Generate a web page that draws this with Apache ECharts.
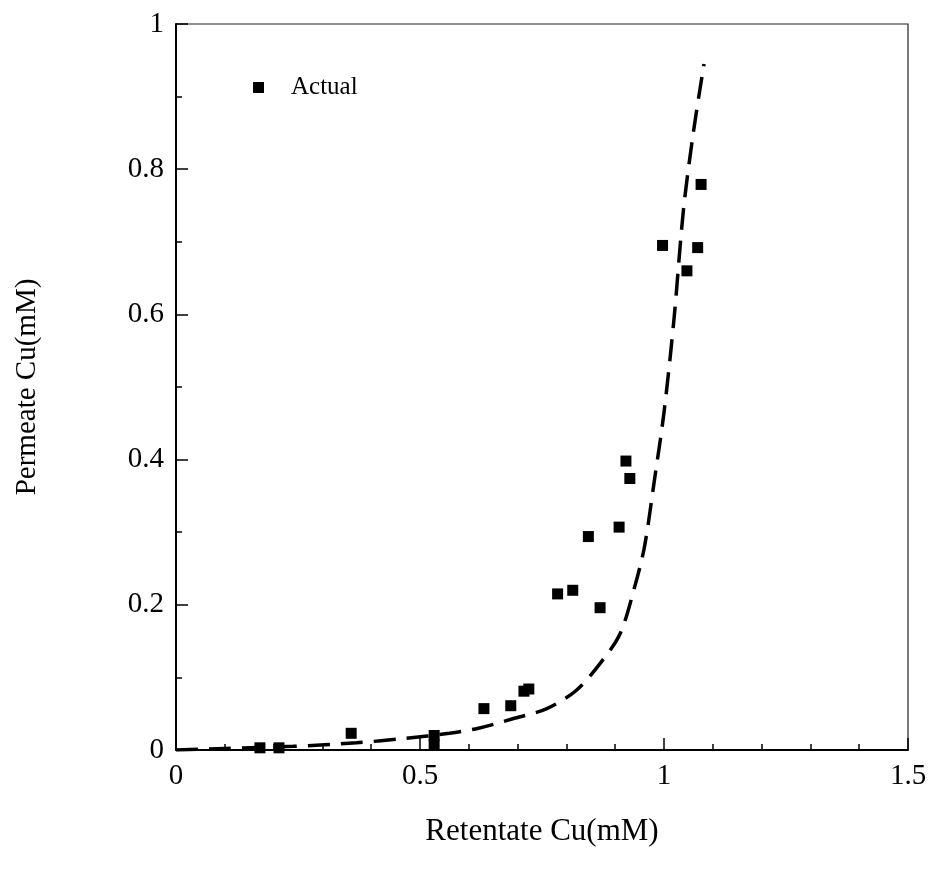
<!DOCTYPE html>
<html>
<head>
<meta charset="utf-8">
<script src="https://cdn.jsdelivr.net/npm/echarts@6/dist/echarts.min.js"></script>
<style>
  html, body { margin: 0; padding: 0; background: #fff; }
  #chart { width: 931px; height: 877px; }
</style>
</head>
<body>
<div id="chart"></div>
<script>
// Measured permeate vs retentate copper concentration (mM)
const actualRetentate = [0.172, 0.211, 0.359, 0.529, 0.529, 0.631, 0.686, 0.713, 0.723, 0.782,
                         0.813, 0.869, 0.845, 0.908, 0.922, 0.930, 0.997, 1.047, 1.069, 1.076];
const actualPermeate  = [0.003, 0.003, 0.023, 0.020, 0.007, 0.057, 0.061, 0.081, 0.084, 0.215,
                         0.220, 0.196, 0.294, 0.307, 0.398, 0.374, 0.695, 0.660, 0.692, 0.779];

// Model prediction curve (dashed)
const modelRetentate = [0, 0.10, 0.24, 0.37, 0.47, 0.56, 0.62, 0.69, 0.76, 0.82,
                        0.87, 0.91, 0.94, 0.96, 0.98, 1.00, 1.02, 1.04, 1.06, 1.082];
const modelPermeate  = [0, 0.002, 0.005, 0.010, 0.016, 0.023, 0.030, 0.043, 0.057, 0.082,
                        0.120, 0.160, 0.225, 0.280, 0.370, 0.465, 0.590, 0.745, 0.850, 0.945];

const xTicks = [0, 0.5, 1, 1.5];
const yTicks = [0, 0.2, 0.4, 0.6, 0.8, 1];

const serif = '"Liberation Serif", "DejaVu Serif", serif';
const ink = '#000';

const chart = echarts.init(document.getElementById('chart'), null, { renderer: 'canvas' });

const fmt = v => String(Math.round(v * 10) / 10);

chart.setOption({
  animation: false,
  backgroundColor: '#fff',
  grid: {
    left: 176, top: 24, width: 732, height: 726,
    show: true, borderColor: '#222', borderWidth: 1.2, backgroundColor: 'transparent'
  },
  legend: {
    left: 248, top: 70,
    data: ['Actual'],
    icon: 'rect',
    itemWidth: 11, itemHeight: 11,
    itemStyle: { opacity: 1, color: ink },
    textStyle: { fontFamily: serif, fontSize: 25, color: ink, padding: [0, 0, 0, 22] }
  },
  xAxis: {
    type: 'value',
    min: xTicks[0], max: xTicks[xTicks.length - 1], interval: 0.5,
    name: 'Retentate Cu(mM)',
    nameLocation: 'middle', nameGap: 66,
    nameTextStyle: { fontFamily: serif, fontSize: 31, color: ink },
    axisLine: { show: true, onZero: false, lineStyle: { color: ink, width: 2 } },
    axisTick: { show: true, inside: true, length: 12, lineStyle: { color: ink, width: 1.5 } },
    minorTick: { show: true, splitNumber: 5, length: 6, lineStyle: { color: ink, width: 1.5 } },
    splitLine: { show: false },
    axisLabel: {
      margin: 12, fontFamily: serif, fontSize: 29, color: ink,
      formatter: v => xTicks.includes(v) ? fmt(v) : ''
    }
  },
  yAxis: {
    type: 'value',
    min: yTicks[0], max: yTicks[yTicks.length - 1], interval: 0.2,
    name: 'Permeate Cu(mM)',
    nameLocation: 'middle', nameGap: 134, nameRotate: 90,
    nameTextStyle: { fontFamily: serif, fontSize: 29, color: ink },
    axisLine: { show: true, onZero: false, lineStyle: { color: ink, width: 2 } },
    axisTick: { show: true, inside: true, length: 12, lineStyle: { color: ink, width: 1.5 } },
    minorTick: { show: true, splitNumber: 2, length: 6, lineStyle: { color: ink, width: 1.5 } },
    splitLine: { show: false },
    axisLabel: {
      margin: 12, fontFamily: serif, fontSize: 29, color: ink,
      formatter: v => yTicks.some(t => Math.abs(t - v) < 1e-9) ? fmt(v) : ''
    }
  },
  series: [
    {
      name: 'Model',
      type: 'line',
      data: modelRetentate.map((x, i) => [x, modelPermeate[i]]),
      smooth: 0.3,
      showSymbol: false,
      lineStyle: { color: ink, width: 3.5, type: [22, 11] },
      z: 2
    },
    {
      name: 'Actual',
      type: 'scatter',
      data: actualRetentate.map((x, i) => [x, actualPermeate[i]]),
      symbol: 'rect',
      symbolSize: 11,
      itemStyle: { color: ink, opacity: 1 },
      z: 3
    }
  ]
});
</script>
</body>
</html>
